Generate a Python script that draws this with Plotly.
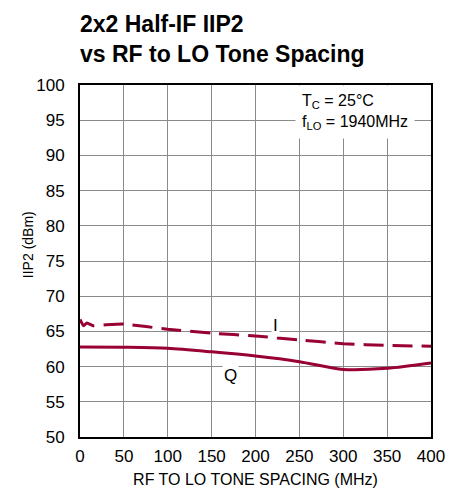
import plotly.graph_objects as go

i_x = [0, 4, 8, 15, 30, 50, 100, 150, 200, 250, 300, 350, 400]
i_y = [66.7, 65.8, 66.2, 65.8, 65.95, 66.05, 65.3, 64.75, 64.35, 63.8, 63.25, 63.0, 62.9]
q_x = [0, 50, 100, 150, 200, 250, 300, 350, 400]
q_y = [62.8, 62.75, 62.6, 62.1, 61.5, 60.7, 59.6, 59.75, 60.5]
x_ticks = [0, 50, 100, 150, 200, 250, 300, 350, 400]
y_ticks = [50, 55, 60, 65, 70, 75, 80, 85, 90, 95, 100]

RED = "#990033"
FONT = "Liberation Sans"

fig = go.Figure()
fig.add_trace(go.Scatter(x=i_x, y=i_y, mode="lines",
                         line=dict(color=RED, width=3, dash="20px,9px", shape="spline", smoothing=0.4),
                         showlegend=False))
fig.add_trace(go.Scatter(x=q_x, y=q_y, mode="lines",
                         line=dict(color=RED, width=3, shape="spline", smoothing=0.8),
                         showlegend=False))

fig.update_layout(
    width=459, height=483,
    margin=dict(l=72, r=36, t=77, b=54, autoexpand=False),
    paper_bgcolor="white", plot_bgcolor="white",
    showlegend=False,
    font=dict(family=FONT, size=16, color="black"),
)
fig.update_xaxes(range=[0, 400], tickvals=x_ticks, showgrid=True, gridcolor="#8a8a8a", gridwidth=1,
                 showline=True, linecolor="black", linewidth=2, mirror=True, zeroline=False,
                 ticks="", tickfont=dict(family=FONT, size=17), ticklabelstandoff=3,
                 title=dict(text="RF TO LO TONE SPACING (MHz)", font=dict(family=FONT, size=16), standoff=8))
fig.update_yaxes(range=[50, 100], tickvals=y_ticks, showgrid=True, gridcolor="#8a8a8a", gridwidth=1,
                 showline=True, linecolor="black", linewidth=2, mirror=True, zeroline=False,
                 ticks="", tickfont=dict(family=FONT, size=17), ticklabelstandoff=10)

# Y-axis title
fig.add_annotation(xref="paper", yref="paper", x=0, y=0.545, xanchor="center", yanchor="middle",
                   xshift=-52, text="IIP2 (dBm)", textangle=-90,
                   font=dict(family=FONT, size=14), showarrow=False)
# Title
fig.add_annotation(xref="paper", yref="paper", x=0, y=1, xanchor="left", yanchor="bottom",
                   xshift=-2, yshift=16, align="left",
                   text="<b>2x2 Half-IF IIP2<br>vs RF to LO Tone Spacing</b>",
                   font=dict(family=FONT, size=23), showarrow=False)
# Conditions
fig.add_annotation(x=245, y=96.2, xanchor="left", yanchor="middle", align="left",
                   text="T<sub>C</sub> = 25°C<br>f<sub>LO</sub> = 1940MHz",
                   font=dict(family=FONT, size=16), bgcolor="white", borderpad=6, showarrow=False)
# Curve labels
fig.add_annotation(x=223, y=65.9, text="I", font=dict(family=FONT, size=17), bgcolor="white", showarrow=False)
fig.add_annotation(x=172, y=58.8, text="Q", font=dict(family=FONT, size=17), bgcolor="white", showarrow=False)

fig.write_html("out.html")
